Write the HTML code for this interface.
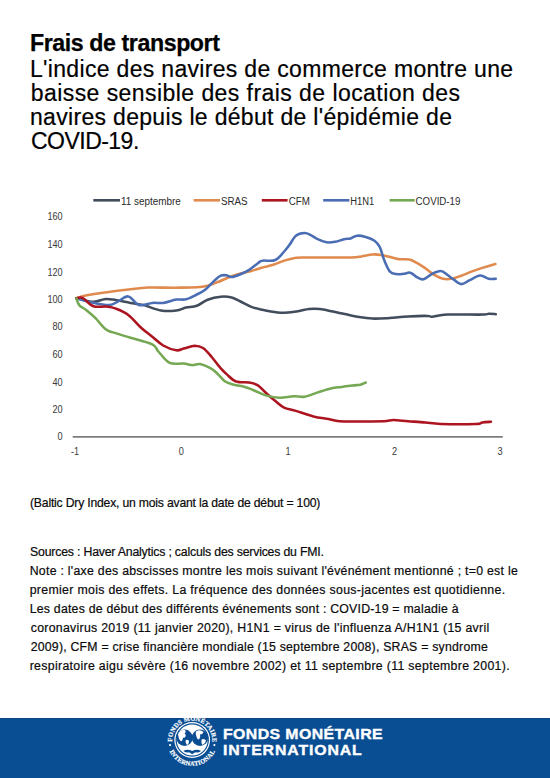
<!DOCTYPE html>
<html><head><meta charset="utf-8">
<style>
html,body{margin:0;padding:0;background:#fff;}
body{width:550px;height:778px;position:relative;overflow:hidden;font-family:"Liberation Sans",sans-serif;color:#111;}
.a{position:absolute;white-space:nowrap;}
#foot{left:0;top:718px;width:550px;height:60px;background:#094D93;box-shadow:inset 0 1px 0 #0B4582;}
.ft{color:#fff;font-weight:bold;font-size:13.8px;line-height:16px;transform-origin:0 0;transform:scaleX(1.15);-webkit-text-stroke:0.35px #fff;}
svg{position:absolute;left:0;top:0;}
.yl{font-size:11.2px;fill:#3a3a3a;text-anchor:end;}
.xl{font-size:11.2px;fill:#3a3a3a;text-anchor:middle;}
.lg{font-size:10px;fill:#2a2a2a;}
</style></head><body>
<div class="a" id="t0" style="left:30.00px;top:29.84px;font-size:23.20px;line-height:27.84px;letter-spacing:-0.424px;color:#000;font-weight:bold;-webkit-text-stroke:0.25px #000;">Frais de transport</div>
<div class="a" id="s1" style="left:30.00px;top:55.53px;font-size:23.00px;line-height:27.60px;letter-spacing:0.319px;color:#000;-webkit-text-stroke:0.2px #000;">L'indice des navires de commerce montre une</div>
<div class="a" id="s2" style="left:30.70px;top:79.63px;font-size:23.00px;line-height:27.60px;letter-spacing:0.440px;color:#000;-webkit-text-stroke:0.2px #000;">baisse sensible des frais de location des</div>
<div class="a" id="s3" style="left:30.00px;top:103.83px;font-size:23.00px;line-height:27.60px;letter-spacing:0.313px;color:#000;-webkit-text-stroke:0.2px #000;">navires depuis le début de l'épidémie de</div>
<div class="a" id="s4" style="left:31.00px;top:127.73px;font-size:23.00px;line-height:27.60px;letter-spacing:-0.525px;color:#000;-webkit-text-stroke:0.2px #000;">COVID-19.</div>
<div class="a" id="i0" style="left:30.00px;top:495.95px;font-size:12.20px;line-height:14.64px;letter-spacing:-0.196px;color:#0a0a0a;-webkit-text-stroke:0.2px #0a0a0a;">(Baltic Dry Index, un mois avant la date de début = 100)</div>
<div class="a" id="n1" style="left:30.10px;top:545.46px;font-size:12.30px;line-height:14.76px;letter-spacing:-0.200px;color:#0a0a0a;-webkit-text-stroke:0.2px #0a0a0a;">Sources : Haver Analytics ; calculs des services du FMI.</div>
<div class="a" id="n2" style="left:29.70px;top:564.36px;font-size:12.30px;line-height:14.76px;letter-spacing:0.274px;color:#0a0a0a;-webkit-text-stroke:0.2px #0a0a0a;">Note : l'axe des abscisses montre les mois suivant l'événément mentionné ; t=0 est le</div>
<div class="a" id="n3" style="left:29.70px;top:583.26px;font-size:12.30px;line-height:14.76px;letter-spacing:0.327px;color:#0a0a0a;-webkit-text-stroke:0.2px #0a0a0a;">premier mois des effets. La fréquence des données sous-jacentes est quotidienne.</div>
<div class="a" id="n4" style="left:29.70px;top:602.16px;font-size:12.30px;line-height:14.76px;letter-spacing:0.223px;color:#0a0a0a;-webkit-text-stroke:0.2px #0a0a0a;">Les dates de début des différents événements sont : COVID-19 = maladie à</div>
<div class="a" id="n5" style="left:30.70px;top:621.06px;font-size:12.30px;line-height:14.76px;letter-spacing:0.296px;color:#0a0a0a;-webkit-text-stroke:0.2px #0a0a0a;">coronavirus 2019 (11 janvier 2020), H1N1 = virus de l'influenza A/H1N1 (15 avril</div>
<div class="a" id="n6" style="left:30.70px;top:639.96px;font-size:12.30px;line-height:14.76px;letter-spacing:0.219px;color:#0a0a0a;-webkit-text-stroke:0.2px #0a0a0a;">2009), CFM = crise financière mondiale (15 septembre 2008), SRAS = syndrome</div>
<div class="a" id="n7" style="left:29.70px;top:658.86px;font-size:12.30px;line-height:14.76px;letter-spacing:0.327px;color:#0a0a0a;-webkit-text-stroke:0.2px #0a0a0a;">respiratoire aigu sévère (16 novembre 2002) et 11 septembre (11 septembre 2001).</div>

<svg width="550" height="778" viewBox="0 0 550 778" style="font-family:'Liberation Sans',sans-serif">
<g class="lg">
<line x1="93.3" y1="200.3" x2="120" y2="200.3" stroke="#414C5C" stroke-width="2.6"/>
<text x="121" y="204.6" textLength="59.8" lengthAdjust="spacingAndGlyphs">11 septembre</text>
<line x1="193.7" y1="200.3" x2="220" y2="200.3" stroke="#E08A4E" stroke-width="2.6"/>
<text x="221" y="204.6" textLength="26.6" lengthAdjust="spacingAndGlyphs">SRAS</text>
<line x1="261.8" y1="200.3" x2="287.6" y2="200.3" stroke="#AC1420" stroke-width="2.6"/>
<text x="288.8" y="204.6" textLength="21.2" lengthAdjust="spacingAndGlyphs">CFM</text>
<line x1="323.2" y1="200.3" x2="349.4" y2="200.3" stroke="#4A6DB3" stroke-width="2.6"/>
<text x="350.3" y="204.6" textLength="24" lengthAdjust="spacingAndGlyphs">H1N1</text>
<line x1="389.6" y1="200.3" x2="414.7" y2="200.3" stroke="#74A853" stroke-width="2.6"/>
<text x="415.6" y="204.6" textLength="44.8" lengthAdjust="spacingAndGlyphs">COVID-19</text>
</g>
<g class="yl">
<text x="62.6" y="220.1" textLength="15.2" lengthAdjust="spacingAndGlyphs">160</text>
<text x="62.6" y="247.7" textLength="15.2" lengthAdjust="spacingAndGlyphs">140</text>
<text x="62.6" y="275.6" textLength="15.2" lengthAdjust="spacingAndGlyphs">120</text>
<text x="62.6" y="303.0" textLength="15.2" lengthAdjust="spacingAndGlyphs">100</text>
<text x="62.6" y="330.2" textLength="10.2" lengthAdjust="spacingAndGlyphs">80</text>
<text x="62.6" y="357.6" textLength="10.2" lengthAdjust="spacingAndGlyphs">60</text>
<text x="62.6" y="385.5" textLength="10.2" lengthAdjust="spacingAndGlyphs">40</text>
<text x="62.6" y="412.8" textLength="10.2" lengthAdjust="spacingAndGlyphs">20</text>
<text x="62.6" y="440.1" textLength="5.1" lengthAdjust="spacingAndGlyphs">0</text>
</g>
<line x1="72.7" y1="436.8" x2="502.7" y2="436.8" stroke="#7d7d7d" stroke-width="1.7"/>
<g class="xl">
<text x="75.0" y="455.2" textLength="8.0" lengthAdjust="spacingAndGlyphs">-1</text>
<text x="181.4" y="455.2" textLength="5.1" lengthAdjust="spacingAndGlyphs">0</text>
<text x="288.0" y="455.2" textLength="5.1" lengthAdjust="spacingAndGlyphs">1</text>
<text x="394.6" y="455.2" textLength="5.1" lengthAdjust="spacingAndGlyphs">2</text>
<text x="500.0" y="455.2" textLength="5.1" lengthAdjust="spacingAndGlyphs">3</text>
</g>
<g fill="none" stroke-width="2.55" stroke-linejoin="round" stroke-linecap="round">
<path d="M76.3 298.3 C79.2 298.9 88.7 301.7 93.4 301.8 C98.1 301.9 101.0 299.6 104.3 299.2 C107.6 298.8 108.6 299.0 113.0 299.6 C117.4 300.2 125.4 302.0 130.5 302.9 C135.6 303.8 138.4 303.8 143.5 305.1 C148.6 306.4 155.5 309.6 161.0 310.5 C166.5 311.4 172.2 311.0 176.3 310.5 C180.5 310.0 182.5 308.4 185.9 307.6 C189.3 306.8 193.2 307.1 196.8 305.8 C200.4 304.5 203.7 301.2 207.7 299.7 C211.7 298.2 216.8 297.1 220.8 296.7 C224.8 296.3 228.4 296.7 231.7 297.5 C235.0 298.3 237.2 299.9 240.5 301.5 C243.8 303.1 247.8 305.5 251.4 306.9 C255.0 308.3 257.9 308.8 262.3 309.7 C266.7 310.6 273.8 311.9 277.6 312.4 C281.4 312.9 281.6 312.9 285.0 312.7 C288.4 312.5 294.1 311.8 298.1 311.2 C302.1 310.6 305.4 309.4 309.0 309.0 C312.6 308.6 315.9 308.6 319.9 309.0 C323.9 309.4 328.6 310.7 333.0 311.6 C337.4 312.5 341.7 313.4 346.1 314.3 C350.5 315.2 354.8 316.4 359.2 317.1 C363.6 317.8 367.6 318.4 372.3 318.6 C377.0 318.8 383.8 318.4 387.6 318.2 C391.4 318.0 391.6 317.8 395.0 317.5 C398.4 317.2 402.7 316.7 408.1 316.4 C413.6 316.1 423.7 315.8 427.7 315.9 C431.7 316.0 428.8 317.0 432.1 316.8 C435.4 316.6 439.0 315.0 447.4 314.6 C455.8 314.2 475.4 314.8 482.3 314.6 C489.2 314.5 486.6 313.8 488.8 313.7 C491.1 313.6 494.6 314.1 495.8 314.2" stroke="#414C5C"/>
<path d="M76.3 298.3 C78.0 297.8 81.4 296.4 86.8 295.3 C92.2 294.2 101.3 293.0 108.6 292.0 C115.9 291.0 124.0 289.9 130.5 289.2 C137.1 288.5 140.5 287.9 147.9 287.6 C155.3 287.4 166.8 287.8 175.0 287.7 C183.2 287.6 191.4 287.6 196.8 287.3 C202.2 287.0 204.1 286.6 207.7 285.7 C211.3 284.8 215.0 283.2 218.6 281.8 C222.2 280.4 225.8 278.4 229.5 277.0 C233.2 275.6 236.8 274.5 240.5 273.5 C244.2 272.5 247.8 271.9 251.4 270.9 C255.0 269.9 258.7 268.6 262.3 267.6 C265.9 266.6 269.4 266.0 273.2 264.8 C277.0 263.6 281.6 261.5 285.0 260.4 C288.4 259.3 290.8 258.7 293.7 258.2 C296.6 257.7 293.0 257.6 302.5 257.5 C312.0 257.4 340.7 257.7 350.5 257.5 C360.3 257.3 357.8 256.9 361.4 256.4 C365.0 255.9 369.0 254.8 372.3 254.5 C375.6 254.2 377.7 254.4 381.0 254.9 C384.3 255.4 388.8 256.8 391.9 257.5 C395.0 258.2 396.5 258.8 399.4 259.2 C402.3 259.6 406.3 259.0 409.2 259.6 C412.1 260.2 414.1 261.4 416.8 262.9 C419.5 264.4 422.6 266.4 425.5 268.4 C428.4 270.4 431.4 273.2 434.3 274.9 C437.2 276.6 440.1 278.1 443.0 278.8 C445.9 279.5 448.8 279.3 451.7 278.8 C454.6 278.3 457.2 277.2 460.5 276.0 C463.8 274.8 467.8 273.0 471.4 271.6 C475.0 270.2 478.3 269.2 482.3 267.9 C486.3 266.6 493.2 264.6 495.4 264.0" stroke="#E08A4E"/>
<path d="M76.3 298.3 C78.4 298.9 83.6 300.7 89.0 301.8 C94.4 302.9 103.9 305.1 108.6 305.1 C113.3 305.1 114.1 303.2 117.4 301.8 C120.7 300.4 124.7 295.8 128.3 296.4 C131.9 296.9 135.2 304.0 139.2 305.1 C143.2 306.2 148.3 303.3 152.3 302.9 C156.3 302.5 159.2 303.4 163.2 302.9 C167.2 302.3 172.5 300.2 176.3 299.6 C180.1 299.0 182.5 300.2 185.9 299.3 C189.3 298.4 193.5 296.1 196.8 294.5 C200.1 292.9 202.6 291.8 205.5 289.5 C208.4 287.2 211.8 283.0 214.3 280.7 C216.9 278.4 218.8 276.6 220.8 275.7 C222.8 274.8 224.5 275.1 226.3 275.3 C228.1 275.5 229.3 277.2 231.7 277.0 C234.1 276.8 237.6 275.4 240.5 274.2 C243.4 273.0 246.3 271.6 249.2 269.8 C252.1 268.0 255.7 264.8 257.9 263.3 C260.1 261.8 259.4 261.2 262.3 260.7 C265.2 260.1 271.6 261.7 275.4 260.0 C279.2 258.3 282.7 253.0 285.0 250.5 C287.3 248.0 287.6 247.6 289.4 245.1 C291.2 242.6 293.4 237.7 295.9 235.7 C298.4 233.7 302.1 233.2 304.6 233.1 C307.2 233.0 309.0 234.3 311.2 235.3 C313.4 236.3 315.1 238.0 317.7 239.2 C320.2 240.4 323.6 241.9 326.5 242.3 C329.4 242.7 332.3 242.3 335.2 241.8 C338.1 241.3 341.3 239.8 343.9 239.2 C346.4 238.6 348.3 239.1 350.5 238.5 C352.7 237.9 354.5 235.9 357.0 235.7 C359.5 235.4 362.8 236.2 365.7 237.0 C368.6 237.8 372.1 239.0 374.5 240.7 C376.9 242.4 378.3 244.0 379.9 247.3 C381.5 250.6 382.7 256.4 384.3 260.4 C385.9 264.4 387.7 269.0 389.7 271.3 C391.7 273.6 394.0 273.7 396.3 274.1 C398.6 274.5 401.4 274.0 403.7 273.8 C406.0 273.6 408.1 272.1 410.3 272.7 C412.5 273.2 414.6 276.0 416.8 277.1 C419.0 278.2 420.8 279.9 423.4 279.3 C425.9 278.8 429.2 275.2 432.1 273.8 C435.0 272.4 438.2 270.8 440.8 271.0 C443.4 271.2 445.2 273.4 447.4 274.9 C449.6 276.3 451.5 278.2 453.9 279.7 C456.2 281.2 458.9 284.0 461.5 284.1 C464.1 284.2 466.1 281.8 469.2 280.4 C472.3 279.0 476.8 275.9 480.1 275.6 C483.4 275.3 486.2 278.3 488.8 278.8 C491.4 279.3 494.6 278.8 495.8 278.8" stroke="#4A6DB3"/>
<path d="M76.3 298.3 C77.3 298.2 79.7 296.6 82.5 297.9 C85.3 299.2 89.4 304.8 93.4 306.2 C97.4 307.6 102.9 306.2 106.5 306.6 C110.1 307.0 111.6 307.0 115.2 308.4 C118.8 309.8 123.9 311.6 128.3 314.9 C132.7 318.2 137.4 324.4 141.4 328.0 C145.4 331.6 148.7 333.8 152.3 336.7 C155.9 339.6 159.2 343.2 163.2 345.5 C167.2 347.8 172.9 349.8 176.3 350.3 C179.7 350.8 180.6 349.4 183.7 348.6 C186.8 347.9 191.3 345.9 194.6 345.8 C197.9 345.8 200.5 346.4 203.4 348.3 C206.3 350.2 209.2 354.1 212.1 357.5 C215.0 360.9 218.2 365.5 220.8 368.4 C223.4 371.3 224.9 372.7 227.4 374.9 C229.9 377.1 232.5 380.2 236.1 381.5 C239.7 382.8 245.6 381.9 249.2 382.5 C252.8 383.1 255.0 383.6 257.9 385.4 C260.8 387.2 263.7 390.9 266.6 393.5 C269.5 396.1 272.5 398.8 275.4 401.1 C278.3 403.5 280.7 406.0 284.1 407.6 C287.5 409.2 291.0 409.4 295.9 410.9 C300.8 412.4 307.9 415.0 313.4 416.4 C318.8 417.8 324.2 418.2 328.6 419.0 C333.0 419.8 334.0 420.8 339.5 421.2 C345.0 421.6 354.0 421.4 361.4 421.4 C368.8 421.4 378.6 421.5 384.0 421.3 C389.4 421.1 389.5 420.0 393.5 420.0 C397.5 420.0 402.8 420.8 408.1 421.2 C413.4 421.6 420.1 422.0 425.5 422.5 C430.9 423.0 432.4 423.8 440.8 424.0 C449.2 424.2 468.8 424.2 475.7 424.0 C482.6 423.8 479.8 422.9 482.3 422.5 C484.9 422.1 489.6 421.9 491.0 421.8" stroke="#AC1420"/>
<path d="M76.3 298.3 C76.8 299.4 77.5 303.1 79.2 305.1 C81.0 307.1 84.1 308.3 86.8 310.5 C89.5 312.7 92.4 315.1 95.5 318.2 C98.6 321.3 102.5 326.7 105.4 329.1 C108.3 331.5 108.8 330.9 113.0 332.4 C117.2 333.8 124.0 335.8 130.5 337.8 C137.1 339.8 147.6 342.0 152.3 344.4 C157.0 346.8 155.9 348.9 158.8 352.0 C161.7 355.1 165.5 361.0 169.7 362.9 C173.8 364.8 179.9 363.2 183.7 363.6 C187.5 364.0 189.8 365.0 192.5 365.1 C195.2 365.2 197.2 363.5 200.1 364.0 C203.0 364.5 207.2 366.4 209.9 367.9 C212.6 369.3 213.9 370.4 216.5 372.7 C219.1 375.0 222.3 379.5 225.2 381.5 C228.1 383.5 230.6 383.8 233.9 384.7 C237.2 385.6 241.5 386.0 244.8 386.9 C248.1 387.8 249.9 388.8 253.5 390.2 C257.1 391.6 262.2 394.3 266.6 395.6 C271.0 396.9 275.2 397.7 279.7 397.8 C284.2 397.9 289.5 396.5 293.7 396.3 C297.9 396.1 300.6 397.4 304.6 396.7 C308.6 396.0 313.3 393.8 317.7 392.4 C322.1 391.0 326.8 389.3 330.8 388.4 C334.8 387.5 338.1 387.4 341.7 386.9 C345.3 386.4 349.5 385.8 352.6 385.4 C355.7 385.0 358.1 385.2 360.3 384.7 C362.5 384.2 364.8 382.9 365.7 382.5" stroke="#74A853"/>
</g>
</svg>


<div class="a" id="foot"></div>
<svg width="550" height="778" viewBox="0 0 550 778" style="position:absolute;left:0;top:0">
<defs><path id="ltop" d="M172.11 742.91 A20.20 20.20 0 1 1 211.96 745.00"/><path id="lbot" d="M169.19 750.57 A25.00 25.00 0 0 0 215.21 750.57"/></defs>
<g font-family="'Liberation Serif',serif" font-weight="bold" font-size="6.4" fill="#fff" stroke="#fff" stroke-width="0.2">
<text><textPath href="#ltop" textLength="64.9" lengthAdjust="spacing" startOffset="1.4">FONDS MONÉTAIRE</textPath></text>
<text><textPath href="#lbot" textLength="56.7" lengthAdjust="spacing" startOffset="0.9">INTERNATIONAL</textPath></text>
</g>
<circle cx="170.02" cy="745.11" r="1.05" fill="#fff"/>
<circle cx="214.38" cy="745.11" r="1.05" fill="#fff"/>
<circle cx="192.2" cy="740.0" r="17.9" fill="#fff"/>
<circle cx="192.2" cy="740.0" r="16.1" fill="none" stroke="#094D93" stroke-width="1.2"/>
<g fill="#094D93">
<circle cx="184.5" cy="737.8" r="8.2"/>
<circle cx="200.0" cy="737.8" r="8.2"/>
</g>
<g fill="#fff">
<path d="M178.5 733 q2.5 -4 6.5 -3 q1.5 2 -0.5 3.5 q2 1 1 3 q-1 2 -2.5 1 q0 3 -2 4 q-2.5 -2 -2.5 -5 q-1 -2 0 -3.5z"/>
<path d="M185.5 740.5 q2 -1.5 3.5 0.5 q0 3 -2 4 q-1.5 -1 -1.5 -4.5z"/>
<path d="M196 731.5 q4 -2.5 7.5 0.5 q-1 2.5 -3.5 2.5 q1 3 -1 5 q-2 0 -2.5 -3 q-1.5 -2 -0.5 -5z"/>
<path d="M201.5 739.5 q3 -1.5 4.5 1 q-0.5 3 -3.5 4.5 q-1.5 -2 -1 -5.5z"/>
</g>
<path d="M183.3 751.0 q4.2 -2.7 8.9 0 q4.7 -2.7 8.9 0 q-3 2.2 -5.8 1.3 l-3.1 1.9 l-3.1 -1.9 q-2.8 0.9 -5.8 -1.3z" fill="#094D93"/>
</svg>
<div class="a ft" style="left:223px;top:726.6px;letter-spacing:0.35px;">FONDS MONÉTAIRE</div>
<div class="a ft" style="left:223px;top:742.5px;letter-spacing:0.75px;">INTERNATIONAL</div>
</body></html>
